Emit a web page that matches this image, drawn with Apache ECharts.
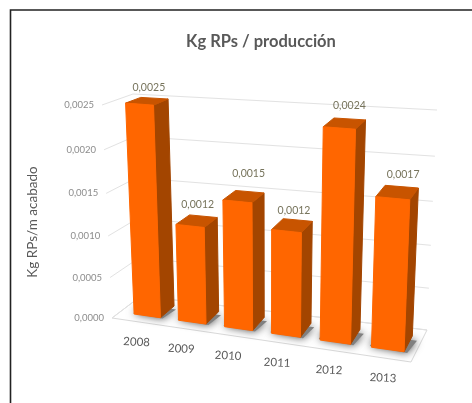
<!DOCTYPE html>
<html>
<head>
<meta charset="utf-8">
<title>Kg RPs / producción</title>
<script src="https://cdn.jsdelivr.net/npm/echarts@6/dist/echarts.min.js"></script>
<style>
html, body {margin: 0; padding: 0; background: #fff;}
#data_show {width: 472px; height: 403px;}
</style>
</head>
<body>
<div id="data_show"></div>
<script>
var categories = ['2008', '2009', '2010', '2011', '2012', '2013'];
var kg_rps_values = [0.0025, 0.00116, 0.0015, 0.00122, 0.0024, 0.0017];
var y_ticks = [0, 0.0005, 0.001, 0.0015, 0.002, 0.0025];

// hidden grid: the axes give the scale, to_screen() tilts it into the 3d box
var grid_left = 112, grid_top = 105, grid_width = 299, grid_height = 213;
// screen corners of the box: f = front, b = back, d = floor, t = top
var box = {
	fdl: [112, 318], fdr: [411, 362], bdl: [141, 296], bdr: [427, 330],
	ftl: [102, 105], ftr: [420, 130], btl: [133, 94], btr: [437, 110]
};
var bar_front = 0.27, bar_back = 0.77;
// the texts do not sit at one even distance from the bars
var label_gap = [14, 16, 23, 15, 18, 18];
var label_shift = [2, 1, 5, 2, 5, 6];
var name_shift = [-3, -4, -4, -3, -1, 0];

function mix(a, b, t){
	return [a[0] + (b[0] - a[0]) * t, a[1] + (b[1] - a[1]) * t];
}

// u along the floor, w into the depth, both 0..1, y in grid pixels
function project(u, y, w){
	var v = (grid_top + grid_height - y) / grid_height;
	// the wall is squeezed a little at the bottom
	v = v - 0.0625 * v * (1 - v);
	var down = mix(mix(box.fdl, box.fdr, u), mix(box.bdl, box.bdr, u), w);
	var up = mix(mix(box.ftl, box.ftr, u), mix(box.btl, box.btr, u), w);
	return mix(down, up, v);
}

function to_screen(px, py, w){
	var u = (px - grid_left) / grid_width;
	// foreshortening of the bars along the floor
	u = u - 0.15 * u * u * (1 - u) + 0.02 * Math.pow(1 - u, 8);
	return project(u, py, w);
}

function face(points, color){
	return {
		type: 'polygon',
		shape: {points: points},
		style: {fill: color, stroke: color, lineWidth: 1, lineJoin: 'round'}
	};
}

function grey_line(a, b){
	return {
		type: 'line',
		shape: {x1: a[0], y1: a[1], x2: b[0], y2: b[1]},
		style: {stroke: '#e2e2e2', lineWidth: 1}
	};
}

function format_value(v){
	return v.toFixed(4).replace('.', ',');
}

function render_wall(params, api){
	var y = api.coord([0, api.value(1)])[1];
	var start = project(0, y, 0);
	var back = project(0, y, 1);
	var children = [
		grey_line(start, back),
		grey_line(back, project(1, y, 1)),
		{
			type: 'text',
			x: start[0] - 8,
			y: start[1],
			style: {
				text: format_value(api.value(1)),
				fill: '#8c8c8c',
				font: '9.5px Lato',
				textAlign: 'right',
				textVerticalAlign: 'middle'
			}
		}
	];
	if(params.dataIndex == 0){
		children.unshift({
			type: 'polygon',
			shape: {points: [box.fdl, box.fdr, box.bdr, box.bdl]},
			style: {fill: '#fff', stroke: '#d9d9d9', lineWidth: 1}
		});
	}
	return {type: 'group', children: children};
}

function bar_corners(api){
	var base = api.coord([api.value(0), 0]);
	var top = api.coord([api.value(0), api.value(1)]);
	var half = api.size([1, 0])[0] * 0.3;
	return {
		l: base[0] - half,
		r: base[0] + half,
		cx: base[0],
		y0: base[1],
		y1: top[1]
	};
}

function render_shadow(params, api){
	var c = bar_corners(api);
	return {
		type: 'polygon',
		shape: {points: [
			to_screen(c.l - 2, c.y0, bar_front + 0.03),
			to_screen(c.r + 3, c.y0, bar_front - 0.02),
			to_screen(c.r + 6, c.y0, bar_back - 0.12),
			to_screen(c.l - 2, c.y0, bar_back - 0.12)
		]},
		style: {fill: '#808080', shadowBlur: 8, shadowColor: 'rgba(70,70,70,1)'}
	};
}

function render_bar(params, api){
	var c = bar_corners(api);
	var fl0 = to_screen(c.l, c.y0, bar_front);
	var fr0 = to_screen(c.r, c.y0, bar_front);
	var br0 = to_screen(c.r, c.y0, bar_back);
	var fl1 = to_screen(c.l, c.y1, bar_front);
	var fr1 = to_screen(c.r, c.y1, bar_front);
	var br1 = to_screen(c.r, c.y1, bar_back);
	var bl1 = to_screen(c.l, c.y1, bar_back);
	return {
		type: 'group',
		children: [
			face([fr0, br0, br1, fr1], '#a34500'),
			face([fl1, fr1, br1, bl1], '#c85400'),
			face([fl0, fr0, fr1, fl1], '#ff6600')
		]
	};
}

function render_text(params, api){
	var c = bar_corners(api);
	var top = to_screen(c.cx, c.y1, (bar_front + bar_back) / 2);
	var name = to_screen(c.cx, c.y0, 0);
	return {
		type: 'group',
		children: [
			{
				type: 'text',
				x: top[0] + label_shift[params.dataIndex],
				y: top[1] - label_gap[params.dataIndex],
				style: {
					text: format_value(api.value(1)),
					fill: '#77745c',
					font: '10.5px Lato',
					textAlign: 'center',
					textVerticalAlign: 'middle'
				}
			},
			{
				type: 'text',
				x: name[0] + name_shift[params.dataIndex],
				y: name[1] + 20,
				rotation: -0.05,
				style: {
					text: categories[api.value(0)],
					fill: '#595959',
					font: '11.5px Lato',
					textAlign: 'center',
					textVerticalAlign: 'middle'
				}
			}
		]
	};
}

var tick_data = [];
for(var t = 0; t < y_ticks.length; t++){
	tick_data.push([0, y_ticks[t]]);
}
var bar_data = [];
for(var i = 0; i < categories.length; i++){
	bar_data.push([i, kg_rps_values[i]]);
}

var chart = echarts.init(document.getElementById('data_show'));
var option = {
	animation: false,
	backgroundColor: '#fff',
	title: {
		text: 'Kg RPs / producción',
		left: 256,
		top: 28,
		textAlign: 'center',
		textStyle: {
			color: '#595959',
			fontFamily: 'Lato',
			fontWeight: 'bold',
			fontSize: 16.5
		}
	},
	grid: {
		left: grid_left,
		top: grid_top,
		width: grid_width,
		height: grid_height
	},
	xAxis: {type: 'category', data: categories, show: false},
	yAxis: {type: 'value', min: 0, max: 0.0025, interval: 0.0005, show: false},
	graphic: [
		{
			type: 'polyline',
			shape: {points: [[10.5, 403], [10.5, 10], [472, 10]]},
			style: {fill: 'none', stroke: '#222', lineWidth: 1.6}
		},
		{
			type: 'text',
			x: 33,
			y: 222,
			rotation: Math.PI / 2,
			style: {
				text: 'Kg RPs/m acabado',
				fill: '#595959',
				font: '13.5px Lato',
				textAlign: 'center',
				textVerticalAlign: 'middle'
			}
		}
	],
	series: [
		{type: 'custom', z: 1, renderItem: render_wall, data: tick_data},
		{type: 'custom', z: 2, renderItem: render_shadow, data: bar_data},
		{type: 'custom', z: 3, renderItem: render_bar, data: bar_data},
		{type: 'custom', z: 4, renderItem: render_text, data: bar_data}
	]
};
chart.setOption(option);
</script>
</body>
</html>
